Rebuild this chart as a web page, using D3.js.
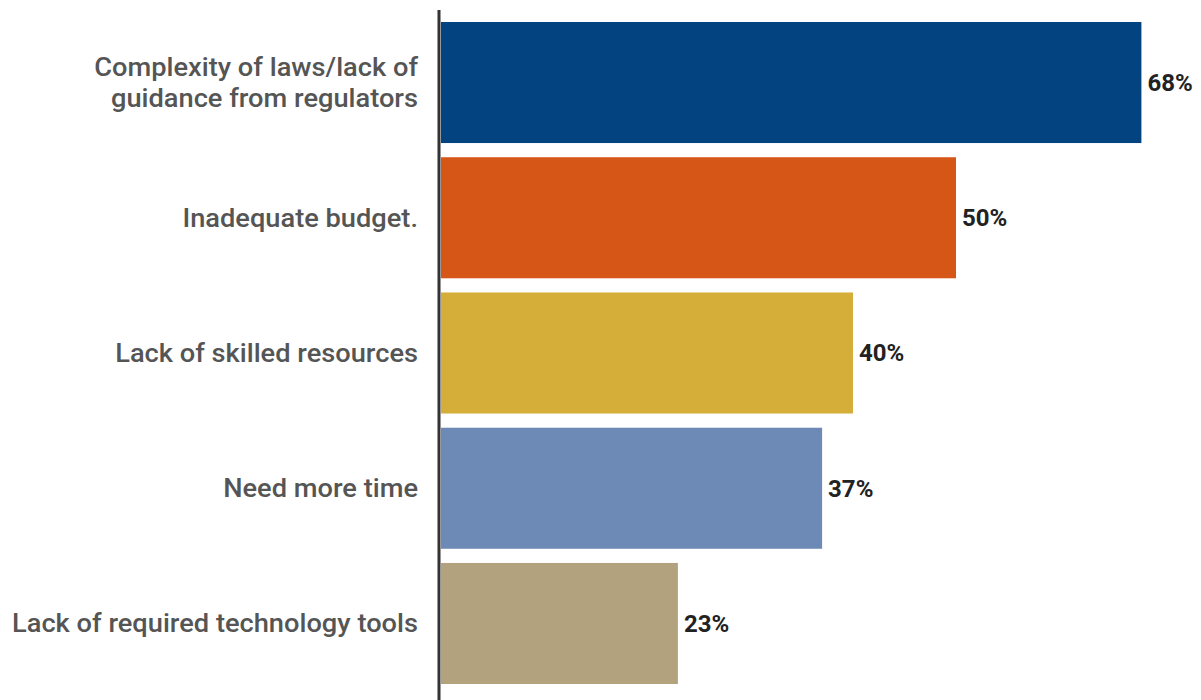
<!DOCTYPE html>
<html>
<head>
<meta charset="utf-8">
<script src="https://cdnjs.cloudflare.com/ajax/libs/d3/7.8.5/d3.min.js"></script>
<style>
  body { margin: 0; background: white; }
  svg { display: block; }
</style>
</head>
<body>
<div id="chart"></div>
<script>
// data
let categories = [
  ["Complexity of laws/lack of", "guidance from regulators"],
  ["Inadequate budget."],
  ["Lack of skilled resources"],
  ["Need more time"],
  ["Lack of required technology tools"]
];
let values = [68, 50, 40, 37, 23];
let colors = ["#034480", "#d65617", "#d4ae38", "#6c8ab5", "#b2a27d"];

let w = 1201;
let h = 700;
let axisX = 439;

let viz = d3.select("#chart")
  .append("svg")
    .attr("width", w)
    .attr("height", h)
;

let y = d3.scaleBand()
    .domain(d3.range(values.length))
    .range([22, 684])
    .paddingInner(0.105)
    .paddingOuter(0)
;

let x = d3.scaleLinear()
    .domain([0, 100])
    .range([axisX + 2, axisX + 2 + 1030])
;

//bars
viz.selectAll(".bar").data(values)
  .enter()
  .append("rect")
    .attr("class", "bar")
    .attr("x", x(0))
    .attr("y", (d, i) => y(i))
    .attr("width", d => x(d) - x(0))
    .attr("height", y.bandwidth())
    .style("fill", (d, i) => colors[i])
;

//value labels
viz.selectAll(".val").data(values)
  .enter()
  .append("text")
    .attr("class", "val")
    .attr("x", d => x(d) + 6)
    .attr("y", (d, i) => y(i) + y.bandwidth() / 2)
    .attr("dy", "0.35em")
    .style("font-family", "Roboto, sans-serif")
    .style("font-weight", 700)
    .style("font-size", "24px")
    .style("fill", "#222")
    .text(d => d + "%")
;

//category labels (slightly stretched like the source image)
let labelG = viz.append("g")
    .attr("transform", "translate(418,0) scale(1.09,1)")
;

let labels = labelG.selectAll(".cat").data(categories)
  .enter()
  .append("text")
    .attr("class", "cat")
    .attr("text-anchor", "end")
    .style("font-family", "Roboto, sans-serif")
    .style("font-weight", 500)
    .style("font-size", "25px")
    .style("fill", "#555")
;

labels.each(function(lines, i) {
  let lineH = 31;
  let cy = y(i) + y.bandwidth() / 2;
  let start = cy - (lines.length - 1) * lineH / 2;
  d3.select(this).selectAll("tspan").data(lines)
    .enter()
    .append("tspan")
      .attr("x", 0)
      .attr("y", (d, j) => start + j * lineH)
      .attr("dy", "0.35em")
      .text(d => d);
});

//axis line
viz.append("line")
    .attr("x1", axisX)
    .attr("x2", axisX)
    .attr("y1", 10)
    .attr("y2", h)
    .style("stroke", "#333")
    .style("stroke-width", 3)
;
</script>
</body>
</html>
